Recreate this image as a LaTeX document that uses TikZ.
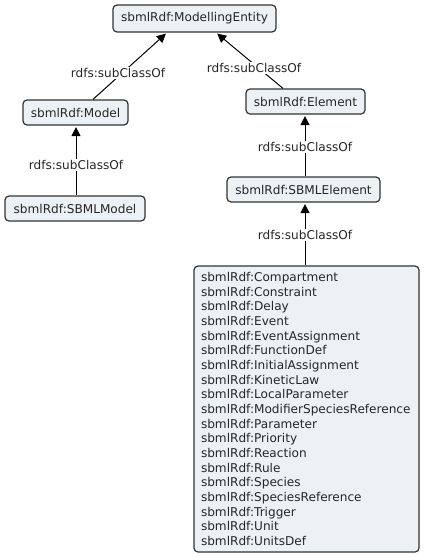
\documentclass[tikz,border=0pt]{standalone}
\usepackage{fontspec}
\setmainfont{DejaVu Sans}
\usetikzlibrary{arrows.meta,calc}
\definecolor{boxfill}{HTML}{EBF1F5}
\definecolor{boxline}{HTML}{333333}
\tikzset{
  cls/.style={draw=boxline, fill=boxfill, line width=1.2pt, rounded corners=4pt,
    inner sep=0pt, minimum height=25pt, font=\fontsize{12.1}{14.67}\selectfont, text=black!85},
  lbl/.style={fill=white, inner sep=1.5pt, font=\fontsize{12.1}{14.67}\selectfont, text=black!85},
  sub/.style={line width=1pt, draw=black, -{Triangle[length=9pt,width=9pt]}, shorten >=1.5pt}
}
\begin{document}
\begin{tikzpicture}[x=1pt,y=-1pt]
\useasboundingbox (0,0) rectangle (424,557);
\node[cls, minimum width=163pt, minimum height=27pt] (me) at (194.5,18.5) {sbmlRdf:ModellingEntity};
\node[cls, minimum width=105pt] (model) at (75.5,112.5) {sbmlRdf:Model};
\node[cls, minimum width=140pt] (sbmlmodel) at (75,208.5) {sbmlRdf:SBMLModel};
\node[cls, minimum width=119pt] (element) at (305.5,101.5) {sbmlRdf:Element};
\node[cls, minimum width=153pt] (sbmlelement) at (303.5,189.5) {sbmlRdf:SBMLElement};
\node[cls, minimum width=225pt, minimum height=286pt, text width=211pt, inner xsep=7pt, align=left] (list) at (306.5,409)
{sbmlRdf:Compartment\\
sbmlRdf:Constraint\\
sbmlRdf:Delay\\
sbmlRdf:Event\\
sbmlRdf:EventAssignment\\
sbmlRdf:FunctionDef\\
sbmlRdf:InitialAssignment\\
sbmlRdf:KineticLaw\\
sbmlRdf:LocalParameter\\
sbmlRdf:ModifierSpeciesReference\\
sbmlRdf:Parameter\\
sbmlRdf:Priority\\
sbmlRdf:Reaction\\
sbmlRdf:Rule\\
sbmlRdf:Species\\
sbmlRdf:SpeciesReference\\
sbmlRdf:Trigger\\
sbmlRdf:Unit\\
sbmlRdf:UnitsDef};
\draw[sub] ($(model.north)+(17.5,0)$) -- node[lbl, pos=0.397, xshift=-4.4pt] {rdfs:subClassOf} ($(me.south)+(-27.5,0)$);
\draw[sub] ($(element.north)+(-22.5,0)$) -- node[lbl, pos=0.368, xshift=-4.3pt] {rdfs:subClassOf} ($(me.south)+(21.5,0)$);
\draw[sub] (sbmlmodel.north -| 76,0) -- node[lbl, pos=0.44] {rdfs:subClassOf} (model.south -| 76,0);
\draw[sub] (sbmlelement.north -| 305,0) -- node[lbl, pos=0.48] {rdfs:subClassOf} (element.south -| 305,0);
\draw[sub] (list.north -| 305,0) -- node[lbl, pos=0.48] {rdfs:subClassOf} (sbmlelement.south -| 305,0);
\end{tikzpicture}
\end{document}
